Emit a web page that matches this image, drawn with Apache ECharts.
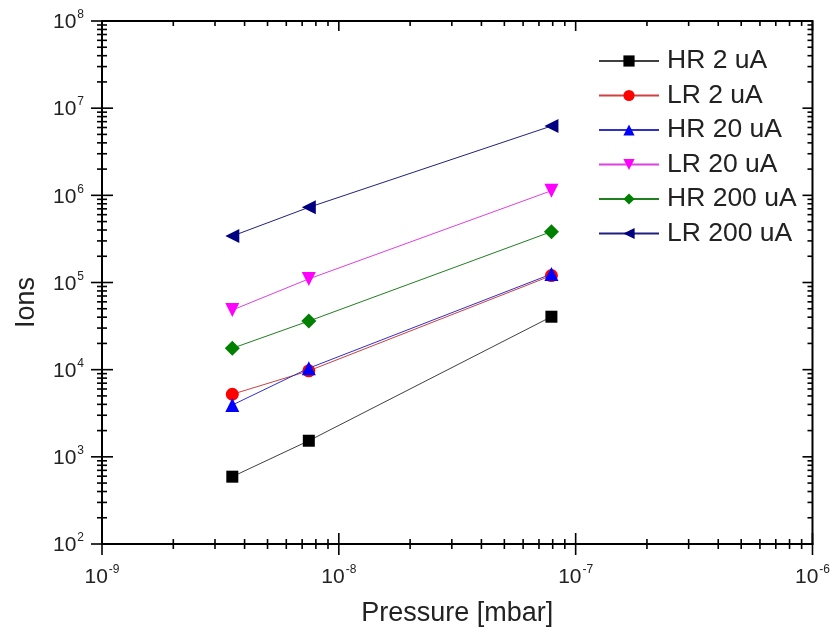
<!DOCTYPE html>
<html><head><meta charset="utf-8">
<script src="https://cdn.jsdelivr.net/npm/echarts@6/dist/echarts.min.js"></script>
<style>html,body{margin:0;padding:0;background:#fff}#c{width:833px;height:637px}</style>
</head><body><div id="c"></div>
<script>
// ---- data ----
const pressure = [3.55e-9, 7.47e-9, 7.90e-8];
const seriesNames = ['HR 2 uA', 'LR 2 uA', 'HR 20 uA', 'LR 20 uA', 'HR 200 uA', 'LR 200 uA'];
const hr2 = [592, 1530, 40500];
const lr2 = [5220, 9700, 120000];
const hr20 = [3930, 10400, 125000];
const lr20 = [48300, 110000, 1130000];
const hr200 = [17600, 36100, 383000];
const lr200 = [341000, 728000, 6240000];
const xMajorTicks = [1e-9, 1e-8, 1e-7, 1e-6];
const yMajorTicks = [1e2, 1e3, 1e4, 1e5, 1e6, 1e7, 1e8];

const allValues = [hr2, lr2, hr20, lr20, hr200, lr200];
const colors = ['#000000', '#ff0000', '#0000ff', '#ff00ff', '#008000', '#000080'];
const lineColors = ['#404040', '#d04040', '#3030d0', '#e040e0', '#208020', '#202080'];
const symbols = ['rect', 'circle', 'triangle', 'triangle', 'diamond', 'triangle'];
const rotations = [0, 0, 0, 180, 0, 90];
const symSizes = [12, 13, 14, 14, 15, 14];

const xMin = xMajorTicks[0], xMax = xMajorTicks[xMajorTicks.length - 1];
const yMin = yMajorTicks[0], yMax = yMajorTicks[yMajorTicks.length - 1];

function minorOf(majors) {
  const out = [];
  for (let i = 0; i < majors.length - 1; i++)
    for (let k = 2; k <= 9; k++) out.push(k * majors[i]);
  return out;
}
const tickData = [];
xMajorTicks.forEach(v => tickData.push([v, yMin, 1, 0]));
minorOf(xMajorTicks).forEach(v => tickData.push([v, yMin, 0, 0]));
yMajorTicks.forEach(v => tickData.push([xMin, v, 1, 1]));
minorOf(yMajorTicks).forEach(v => tickData.push([xMin, v, 0, 1]));

const FONT = "'Liberation Sans', Arial, sans-serif";
function expLabel(v) {
  const e = Math.round(Math.log10(v));
  return '{b|10}{s|' + e + '}';
}
const labelRich = {
  b: { fontSize: 21, fontFamily: FONT, color: '#222', lineHeight: 24, verticalAlign: 'bottom' },
  s: { fontSize: 12, fontFamily: FONT, color: '#222', lineHeight: 24, verticalAlign: 'top', padding: [0, 0, 0, 1] }
};

const lineSeries = seriesNames.map((name, i) => ({
  name: name,
  type: 'line',
  data: pressure.map((p, j) => [p, allValues[i][j]]),
  symbol: symbols[i],
  symbolRotate: rotations[i],
  symbolSize: symSizes[i],
  showSymbol: true,
  color: colors[i],
  lineStyle: { width: 1, color: lineColors[i] },
  itemStyle: { color: colors[i] },
  z: 3 + i
}));

const tickSeries = {
  type: 'custom',
  silent: true,
  z: 20,
  clip: false,
  encode: { x: 0, y: 1 },
  data: tickData,
  renderItem: function (params, api) {
    const major = api.value(2), kind = api.value(3);
    const p = api.coord([api.value(0), api.value(1)]);
    const cs = params.coordSys;
    const L = major ? 11 : 5;
    const Li = major ? 10 : 5;
    const style = { stroke: '#000', lineWidth: 1.6 };
    if (kind === 0) {
      const x = p[0], yb = cs.y + cs.height, yt = cs.y;
      return { type: 'group', children: [
        { type: 'line', shape: { x1: x, y1: yb - L, x2: x, y2: yb + L }, style: style },
        { type: 'line', shape: { x1: x, y1: yt, x2: x, y2: yt + Li }, style: style }
      ] };
    } else {
      const y = p[1], xl = cs.x, xr = cs.x + cs.width;
      return { type: 'group', children: [
        { type: 'line', shape: { x1: xl - L, y1: y, x2: xl + L, y2: y }, style: style },
        { type: 'line', shape: { x1: xr - Li, y1: y, x2: xr, y2: y }, style: style }
      ] };
    }
  }
};

const chart = echarts.init(document.getElementById('c'), null, { renderer: 'canvas' });
chart.setOption({
  animation: false,
  backgroundColor: '#fff',
  grid: { left: 102, right: 20, top: 21, bottom: 93, show: true, borderColor: '#000', borderWidth: 2, backgroundColor: 'transparent' },
  legend: {
    data: seriesNames,
    orient: 'vertical',
    left: 593,
    top: 42,
    itemWidth: 60,
    itemHeight: 14,
    itemGap: 6.5,
    textStyle: { fontSize: 26.5, fontFamily: FONT, color: '#222', lineHeight: 28, padding: [0, 0, 0, 3] }
  },
  xAxis: {
    type: 'log', logBase: 10, min: xMin, max: xMax, splitNumber: 5,
    name: 'Pressure [mbar]', nameLocation: 'middle', nameGap: 56,
    nameTextStyle: { fontSize: 27, fontFamily: FONT, color: '#222' },
    axisLine: { show: true, lineStyle: { color: '#000', width: 2 } },
    axisTick: { show: false },
    splitLine: { show: false },
    axisLabel: { margin: 20, formatter: expLabel, rich: labelRich }
  },
  yAxis: {
    type: 'log', logBase: 10, min: yMin, max: yMax, splitNumber: 8,
    name: 'Ions', nameLocation: 'middle', nameGap: 62,
    nameTextStyle: { fontSize: 27, fontFamily: FONT, color: '#222', padding: [0, 40, 0, 0] },
    axisLine: { show: true, lineStyle: { color: '#000', width: 2 } },
    axisTick: { show: false },
    splitLine: { show: false },
    axisLabel: { margin: 18, formatter: expLabel, rich: labelRich }
  },
  series: lineSeries.concat([tickSeries])
});
</script>
</body></html>
